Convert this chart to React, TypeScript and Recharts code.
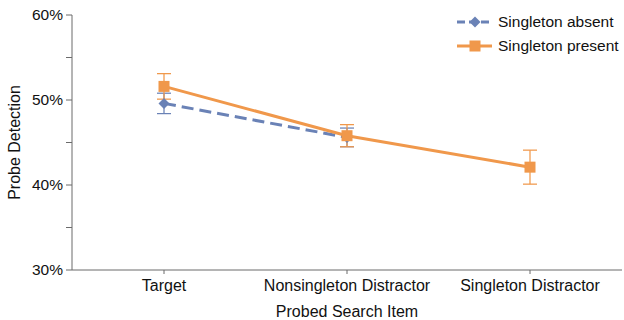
import React from 'react';
import { LineChart, Line, XAxis, YAxis, ErrorBar, Label } from 'recharts';

const categories = ['Target', 'Nonsingleton Distractor', 'Singleton Distractor'];
const absentValues = [0.496, 0.456, null];
const absentErrors = [0.012, 0.011, null];
const presentValues = [0.516, 0.458, 0.421];
const presentErrors = [0.015, 0.013, 0.02];
const yTicks = [0.3, 0.35, 0.4, 0.45, 0.5, 0.55, 0.6];

const BLUE = '#6a82b6';
const ORANGE = '#f0984b';
const FONT = '"Liberation Sans", Arial, sans-serif';
const TEXT = '#111';
const AXIS = '#6b6b6b';

const data = categories.map((name, i) => ({
    name,
    absent: absentValues[i],
    absentErr: absentErrors[i],
    present: presentValues[i],
    presentErr: presentErrors[i],
}));

const series = [
    { key: 'absent', label: 'Singleton absent', color: BLUE, dash: '12 6', shape: 'diamond' },
    { key: 'present', label: 'Singleton present', color: ORANGE, dash: undefined, shape: 'square' },
];

function Marker({ cx, cy, shape, color }: any) {
    if (cx == null || cy == null) return null;
    if (shape === 'diamond') {
        const r = 5.5;
        return <path d={`M${cx},${cy - r}L${cx + r},${cy}L${cx},${cy + r}L${cx - r},${cy}Z`} fill={color} />;
    }
    const s = 5.5;
    return <rect x={cx - s} y={cy - s} width={s * 2} height={s * 2} fill={color} />;
}

function YTick({ x, y, payload }: any) {
    const v = payload.value;
    const major = Math.abs(Math.round(v * 10) - v * 10) < 1e-6;
    if (!major) return null;
    return (
        <text x={x} y={y} dy={5} textAnchor="end" fill={TEXT} fontSize={15.5} fontFamily={FONT}>
            {`${Math.round(v * 100)}%`}
        </text>
    );
}

function YLabel({ viewBox }: any) {
    const x = viewBox.x + 20;
    const y = viewBox.y + viewBox.height / 2;
    return (
        <text x={x} y={y} transform={`rotate(-90, ${x}, ${y})`} textAnchor="middle" fill={TEXT} fontSize={16} fontFamily={FONT}>
            Probe Detection
        </text>
    );
}

export default function App() {
    return (
        <div style={{ position: 'absolute', left: 0, top: 0, width: 624, height: 320, background: '#fff' }}>
            <LineChart width={624} height={320} data={data} margin={{ top: 15, right: 2, left: 0, bottom: 0 }}>
                <XAxis
                    dataKey="name"
                    stroke={AXIS}
                    tickSize={4}
                    tickMargin={6}
                    tick={{ fill: TEXT, fontSize: 16, fontFamily: FONT }}
                    height={50}
                    interval={0}
                    padding={{ left: 92, right: 92 }}
                >
                    <Label value="Probed Search Item" position="insideBottom" offset={3} fill={TEXT} fontSize={16} fontFamily={FONT} />
                </XAxis>
                <YAxis
                    domain={[0.3, 0.6]}
                    ticks={yTicks}
                    stroke={AXIS}
                    tickSize={6}
                    tickMargin={3}
                    width={72}
                    tick={<YTick />}
                    interval={0}
                >
                    <Label content={<YLabel />} />
                </YAxis>
                {series.map(s => (
                    <Line
                        key={s.key}
                        dataKey={s.key}
                        stroke={s.color}
                        strokeWidth={3}
                        strokeDasharray={s.dash}
                        isAnimationActive={false}
                        connectNulls={false}
                        dot={(p: any) => <Marker key={`${s.key}-${p.index}`} cx={p.cx} cy={p.cy} shape={s.shape} color={s.color} />}
                        activeDot={false}
                    >
                        <ErrorBar dataKey={`${s.key}Err`} width={7} stroke={s.color} strokeWidth={1.25} direction="y" />
                    </Line>
                ))}
            </LineChart>
            <div style={{ position: 'absolute', left: 455, top: 10, fontFamily: FONT, fontSize: 15.5, color: TEXT }}>
                {series.map(s => (
                    <div key={s.key} style={{ display: 'flex', alignItems: 'center', height: 24, whiteSpace: 'nowrap' }}>
                        <svg width={40} height={14} style={{ marginRight: 3 }}>
                            <line x1={2} y1={7} x2={37} y2={7} stroke={s.color} strokeWidth={3} strokeDasharray={s.dash ? '8 4' : undefined} />
                            <Marker cx={20} cy={7} shape={s.shape} color={s.color} />
                        </svg>
                        <span>{s.label}</span>
                    </div>
                ))}
            </div>
        </div>
    );
}
